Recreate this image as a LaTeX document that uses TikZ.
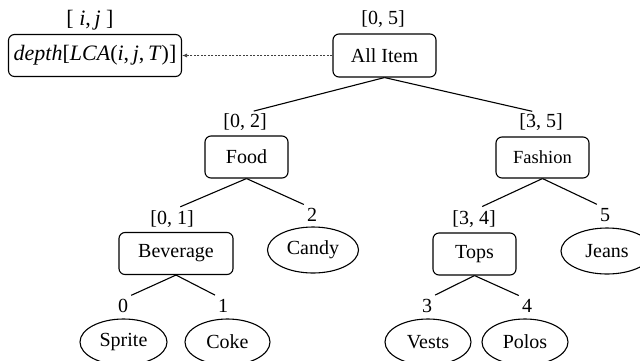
\documentclass[tikz,border=0pt]{standalone}
\usepackage{fontspec}
\setmainfont{Liberation Serif}
\usetikzlibrary{arrows.meta,shapes.geometric}
\tikzset{
  box/.style={draw, line width=1.1pt, rounded corners=6pt, inner sep=0pt, font=\fontsize{20}{22}\selectfont},
  leaf/.style={draw, ellipse, line width=1.1pt, inner sep=0pt, font=\fontsize{20}{22}\selectfont},
  lbl/.style={inner sep=0pt, font=\fontsize{20}{22}\selectfont},
  edge/.style={line width=1.1pt, shorten >=9pt},
  link/.style={draw=black!75, line width=0.8pt, dash pattern=on 2pt off 1.5pt, -{Latex[length=5pt,width=4pt]}}
}
\begin{document}
\begin{tikzpicture}[x=1pt,y=-1pt]
\useasboundingbox (0,0) rectangle (640,360);
% top row
\node[box, minimum width=173pt, minimum height=42pt, font=\fontsize{22}{24}\selectfont] (depth) at (95,55.5) {\textit{depth}[\textit{LCA}(\textit{i},\,\textit{j},\,\textit{T})]};
\node[lbl, font=\fontsize{22}{24}\selectfont] (ij) at (90,20) {[\ \textit{i},\,\textit{j}\ ]};
\node[box, minimum width=103pt, minimum height=43pt] (all) at (384.5,55.5) {All Item};
\node[lbl] (l05) at (383,19) {[0, 5]};
% level 1
\node[lbl] (l02) at (245,122) {[0, 2]};
\node[box, minimum width=83pt, minimum height=42pt] (food) at (246.5,157) {Food};
\node[lbl] (l35) at (541,122) {[3, 5]};
\node[box, minimum width=93pt, minimum height=41pt, font=\fontsize{18.5}{21}\selectfont] (fashion) at (542.5,157.5) {Fashion};
% level 2
\node[lbl] (l01) at (172,219) {[0, 1]};
\node[box, minimum width=114pt, minimum height=42pt] (bev) at (176,253.5) {Beverage};
\node[lbl] (l2) at (312,215) {2};
\node[leaf, minimum width=91pt, minimum height=46pt] (candy) at (313,250) {Candy};
\node[lbl] (l34) at (474,219) {[3, 4]};
\node[box, minimum width=83pt, minimum height=42pt] (tops) at (474.5,254) {Tops};
\node[lbl] (l5) at (605,215) {5};
\node[leaf, minimum width=92pt, minimum height=46pt] (jeans) at (607,251) {Jeans};
% level 3
\node[lbl] (l0) at (123,306) {0};
\node[leaf, minimum width=87pt, minimum height=46pt] (sprite) at (123.5,342) {Sprite};
\node[lbl] (l1) at (223,306) {1};
\node[leaf, minimum width=85pt, minimum height=46pt] (coke) at (227.5,342) {Coke};
\node[lbl] (l3) at (427,306) {3};
\node[leaf, minimum width=86pt, minimum height=46pt] (vests) at (428,342) {Vests};
\node[lbl] (l4) at (527,306) {4};
\node[leaf, minimum width=86pt, minimum height=46pt] (polos) at (525,342) {Polos};
% connectors
\draw[link] (all.west) -- (depth.east);
\draw[edge] (all.south) -- (l02.north);
\draw[edge] (all.south) -- (l35.north);
\draw[edge] (food.south) -- (l01.north);
\draw[edge] (food.south) -- (l2.north);
\draw[edge] (fashion.south) -- (l34.north);
\draw[edge] (fashion.south) -- (l5.north);
\draw[edge] (bev.south) -- (l0.north);
\draw[edge] (bev.south) -- (l1.north);
\draw[edge] (tops.south) -- (l3.north);
\draw[edge] (tops.south) -- (l4.north);
\end{tikzpicture}
\end{document}
